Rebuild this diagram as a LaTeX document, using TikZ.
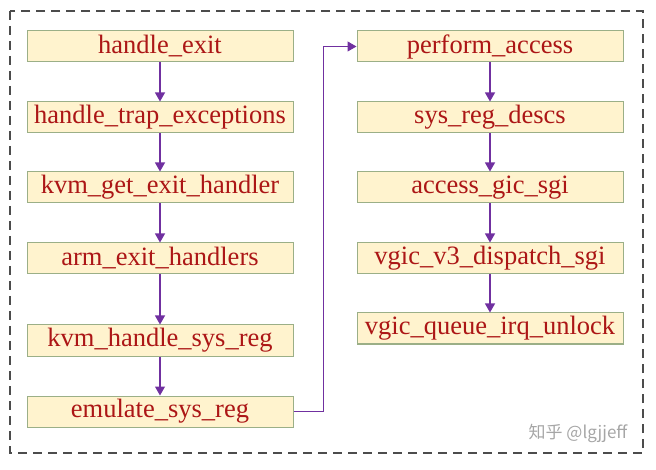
\documentclass[tikz,border=0pt]{standalone}
\usepackage{fontspec}
\setmainfont{Liberation Serif}
\newfontfamily\cjk{Noto Sans CJK SC}
\usetikzlibrary{arrows.meta}
\definecolor{boxfill}{RGB}{255,243,206}
\definecolor{boxline}{RGB}{155,175,135}
\definecolor{fnred}{RGB}{172,22,22}
\definecolor{callpurple}{RGB}{112,48,160}
\tikzset{
  func/.style={draw=boxline,fill=boxfill,text=fnred,line width=1pt,
    minimum width=266pt,minimum height=31pt,inner sep=0pt,
    font=\fontsize{26.5}{26.5}\selectfont},
  call/.style={draw=callpurple,line width=1.1pt,
    -{Triangle[length=9pt,width=10pt]}}
}
\begin{document}
\begin{tikzpicture}[x=1pt,y=-1pt]
\useasboundingbox (0,0) rectangle (656,470);
\draw[dashed,gray!60!black,line width=1.2pt,dash pattern=on 9pt off 6pt] (10,11) rectangle (643,453);
% left column
\node[func] (exit) at (160,46.5){handle\_exit};
\node[func] (trap) at (160,117.5){handle\_trap\_exceptions};
\node[func] (gethandler) at (160,187.5){kvm\_get\_exit\_handler};
\node[func] (handlers) at (160,258.5){arm\_exit\_handlers};
\node[func] (sysreg) at (160,340.5){kvm\_handle\_sys\_reg};
\node[func] (emulate) at (160,411.5){emulate\_sys\_reg};
% right column
\node[func] (perform) at (490,46.5){perform\_access};
\node[func] (descs) at (490,117.5){sys\_reg\_descs};
\node[func] (gicsgi) at (490,187.5){access\_gic\_sgi};
\node[func] (dispatch) at (490,258.5){vgic\_v3\_dispatch\_sgi};
\node[func] (queue) at (490,328.5){vgic\_queue\_irq\_unlock};
\draw[call] (exit) -- (trap);
\draw[call] (trap) -- (gethandler);
\draw[call] (gethandler) -- (handlers);
\draw[call] (handlers) -- (sysreg);
\draw[call] (sysreg) -- (emulate);
\draw[call] (emulate.east) -- ++(30,0) |- (perform.west);
\draw[call] (perform) -- (descs);
\draw[call] (descs) -- (gicsgi);
\draw[call] (gicsgi) -- (dispatch);
\draw[call] (dispatch) -- (queue);
\node[text=black!35,font=\cjk\fontsize{17}{17}\selectfont] (mark) at (578,433){知乎 @lgjjeff};
\end{tikzpicture}
\end{document}
